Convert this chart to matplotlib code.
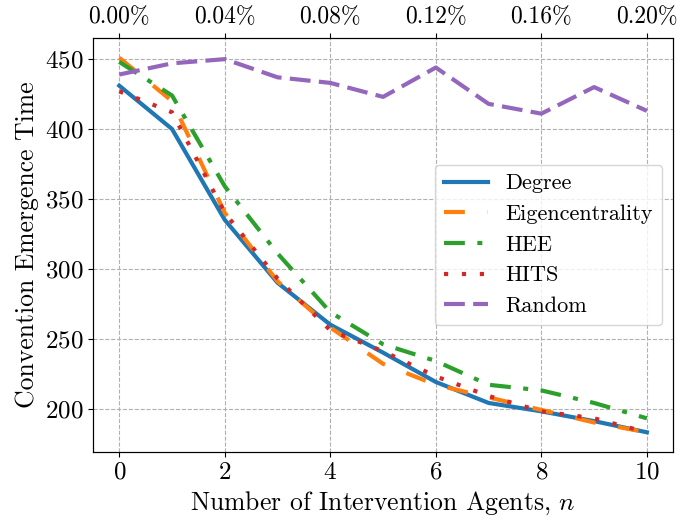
import matplotlib
matplotlib.use('Agg')
import matplotlib.pyplot as plt

plt.rcParams['font.family'] = 'serif'
plt.rcParams['font.serif'] = ['cmr10']
plt.rcParams['mathtext.fontset'] = 'cm'
plt.rcParams['axes.formatter.use_mathtext'] = True
plt.rcParams['axes.unicode_minus'] = False
plt.rcParams['font.size'] = 18

# データ
n_agents = [0, 1, 2, 3, 4, 5, 6, 7, 8, 9, 10]
degree = [431, 400, 335, 290, 260, 240, 219, 204, 198, 191, 183]
eigen = [451, 420, 340, 291, 258, 232, 217, 208, 199, 190, 183]
hee = [448, 424, 359, 311, 269, 246, 234, 217, 213, 204, 193]
hits = [427, 412, 340, 293, 256, 241, 223, 209, 198, 193, 183]
random_ = [439, 447, 450, 437, 433, 423, 444, 418, 411, 430, 413]

top_ticks = [0, 2, 4, 6, 8, 10]
top_labels = ['0.00%', '0.04%', '0.08%', '0.12%', '0.16%', '0.20%']

fig = plt.figure(figsize=(6.78, 5.23), dpi=100)
ax = fig.add_axes([0.137, 0.136, 0.856, 0.791])

lw = 3
ax.plot(n_agents, degree, color='tab:blue', lw=lw, label='Degree')
ax.plot(n_agents, eigen, color='tab:orange', lw=lw, linestyle=(0, (5, 5.5)), label='Eigencentrality')
ax.plot(n_agents, hee, color='tab:green', lw=lw, linestyle=(0, (5, 3, 1.2, 3)), label='HEE')
ax.plot(n_agents, hits, color='tab:red', lw=lw, linestyle=(0, (1, 3.3)), label='HITS')
ax.plot(n_agents, random_, color='tab:purple', lw=lw, linestyle=(0, (5, 2)), label='Random')

ax.set_xlim(-0.5, 10.5)
ax.set_ylim(169, 465)
ax.set_xticks([0, 2, 4, 6, 8, 10])
ax.set_yticks([200, 250, 300, 350, 400, 450])
ax.tick_params(labelsize=18)
ax.set_xlabel('Number of Intervention Agents, $n$', fontsize=18.5)
ax.set_ylabel('Convention Emergence Time', fontsize=18.5)
ax.grid(True, linestyle='--', color='#b0b0b0', linewidth=0.8)
ax.set_axisbelow(True)

ax2 = ax.twiny()
ax2.set_xlim(ax.get_xlim())
ax2.set_xticks(top_ticks)
ax2.set_xticklabels(top_labels, fontsize=17)

ax.legend(loc='center right', fontsize=16)

plt.savefig('out.png', dpi=100)
